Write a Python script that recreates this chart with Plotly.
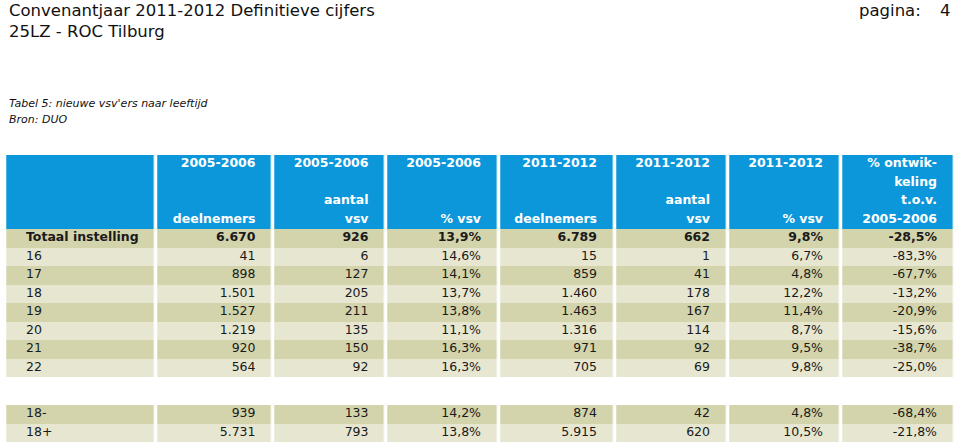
import plotly.graph_objects as go

# ---------------- data ----------------
age_groups = ["Totaal instelling", "16", "17", "18", "19", "20", "21", "22", "18-", "18+"]
deelnemers_0506 = [6670, 41, 898, 1501, 1527, 1219, 920, 564, 939, 5731]
vsv_0506 = [926, 6, 127, 205, 211, 135, 150, 92, 133, 793]
pct_vsv_0506 = [13.9, 14.6, 14.1, 13.7, 13.8, 11.1, 16.3, 16.3, 14.2, 13.8]
deelnemers_1112 = [6789, 15, 859, 1460, 1463, 1316, 971, 705, 874, 5915]
vsv_1112 = [662, 1, 41, 178, 167, 114, 92, 69, 42, 620]
pct_vsv_1112 = [9.8, 6.7, 4.8, 12.2, 11.4, 8.7, 9.5, 9.8, 4.8, 10.5]
pct_ontwikkeling = [-28.5, -83.3, -67.7, -13.2, -20.9, -15.6, -38.7, -25.0, -68.4, -21.8]

header_col1 = ["", "", "", ""]
header_col2 = ["2005-2006", "", "", "deelnemers"]
header_col3 = ["2005-2006", "", "aantal", "vsv"]
header_col4 = ["2005-2006", "", "", "% vsv"]
header_col5 = ["2011-2012", "", "", "deelnemers"]
header_col6 = ["2011-2012", "", "aantal", "vsv"]
header_col7 = ["2011-2012", "", "", "% vsv"]
header_col8 = ["% ontwik-", "keling", "t.o.v.", "2005-2006"]

title_line1 = "Convenantjaar 2011-2012 Definitieve cijfers"
title_line2 = "25LZ - ROC Tilburg"
page_label = "pagina:"
page_number = "4"
caption_line1 = "Tabel 5: nieuwe vsv'ers naar leeftijd"
caption_line2 = "Bron: DUO"


def fmt_int(v):
    return f"{v:,}".replace(",", ".")


def fmt_pct(v):
    return f"{v:.1f}".replace(".", ",") + "%"


# ---------------- layout geometry / styles ----------------
W, H = 959, 448
BLUE = "#0c97da"
DARK = "#d3d4ab"
LIGHT = "#e6e6d1"
TXT = "#1a1a1a"
FONT = "DejaVu Sans"

col_left = [7, 158, 275, 388, 501, 617, 730, 843]
col_right = [155, 271.5, 384.5, 497, 613, 726, 839, 953]
GAP = 3.5
x_edges = [col_left[0] - GAP / 2] + [
    (col_right[i] + col_left[i + 1]) / 2 for i in range(len(col_left) - 1)
] + [col_right[-1] + GAP / 2]

TOP = 155
ROW = 18.5
GAP_ROW = 28
slot_kind = ["h"] * 4 + ["b"] * 8 + ["g"] + ["b"] * 2
slot_h = [GAP_ROW if k == "g" else ROW for k in slot_kind]
y_edges = [TOP]
for h in slot_h:
    y_edges.append(y_edges[-1] + h)
slot_center = [(y_edges[i] + y_edges[i + 1]) / 2 for i in range(len(slot_kind))]

header_y = [slot_center[i] for i, k in enumerate(slot_kind) if k == "h"]
body_y = [slot_center[i] for i, k in enumerate(slot_kind) if k == "b"]
body_fill = [1 if i % 2 == 0 else 2 for i in range(len(age_groups))]

ncol = len(col_left)
z = []
bi = 0
for k in slot_kind:
    if k == "h":
        z.append([0] * ncol)
    elif k == "g":
        z.append([None] * ncol)
    else:
        z.append([body_fill[bi]] * ncol)
        bi += 1

fig = go.Figure()
fig.add_trace(go.Heatmap(
    x=x_edges, y=y_edges, z=z,
    zmin=0, zmax=2,
    colorscale=[[0, BLUE], [0.25, BLUE], [0.25, DARK], [0.75, DARK], [0.75, LIGHT], [1, LIGHT]],
    showscale=False, xgap=GAP, ygap=0, hoverinfo="skip",
))

PAD_R = 16
PAD_L = 19

headers = [header_col1, header_col2, header_col3, header_col4,
           header_col5, header_col6, header_col7, header_col8]
for j in range(1, ncol):
    fig.add_trace(go.Scatter(
        x=[col_right[j] - PAD_R] * 4, y=header_y, text=[f"<b>{t}</b>" for t in headers[j]],
        mode="text", textposition="middle left",
        textfont=dict(family=FONT, size=12.5, color="white"),
        hoverinfo="skip", showlegend=False,
    ))

fig.add_trace(go.Scatter(
    x=[col_left[0] + PAD_L] * len(age_groups), y=body_y,
    text=[f"<b>{a}</b>" if i == 0 else a for i, a in enumerate(age_groups)],
    mode="text", textposition="middle right",
    textfont=dict(family=FONT, size=12.5, color=TXT),
    hoverinfo="skip", showlegend=False,
))

columns = [
    [fmt_int(v) for v in deelnemers_0506],
    [fmt_int(v) for v in vsv_0506],
    [fmt_pct(v) for v in pct_vsv_0506],
    [fmt_int(v) for v in deelnemers_1112],
    [fmt_int(v) for v in vsv_1112],
    [fmt_pct(v) for v in pct_vsv_1112],
    [fmt_pct(v) for v in pct_ontwikkeling],
]
for j, col in enumerate(columns, start=1):
    fig.add_trace(go.Scatter(
        x=[col_right[j] - PAD_R] * len(col), y=body_y,
        text=[f"<b>{t}</b>" if i == 0 else t for i, t in enumerate(col)],
        mode="text", textposition="middle left",
        textfont=dict(family=FONT, size=12.5, color=TXT),
        hoverinfo="skip", showlegend=False,
    ))

ann = [
    dict(x=7, y=10, text=title_line1, xanchor="left", font=dict(size=16.5)),
    dict(x=7, y=31, text=title_line2, xanchor="left", font=dict(size=16.5)),
    dict(x=857, y=10, text=page_label, xanchor="left", font=dict(size=16.5)),
    dict(x=953, y=10, text=page_number, xanchor="right", font=dict(size=16.5)),
    dict(x=7, y=103.5, text=f"<i>{caption_line1}</i>", xanchor="left", font=dict(size=11)),
    dict(x=7, y=119.5, text=f"<i>{caption_line2}</i>", xanchor="left", font=dict(size=11)),
]
for a in ann:
    a.update(xref="x", yref="y", yanchor="middle", showarrow=False)
    a["font"].update(family=FONT, color="#111111")

fig.update_layout(
    width=W, height=H,
    margin=dict(l=0, r=0, t=0, b=0),
    paper_bgcolor="white", plot_bgcolor="white",
    xaxis=dict(range=[0, W], visible=False, fixedrange=True),
    yaxis=dict(range=[H, 0], visible=False, fixedrange=True),
    annotations=ann,
    showlegend=False,
    hovermode=False,
)

# remove the browser's default 8px page margin so the figure fills the window
fig.write_html(
    "out.html",
    config={"displayModeBar": False, "staticPlot": True},
    post_script="document.body.style.margin='0';document.body.style.overflow='hidden';",
)
